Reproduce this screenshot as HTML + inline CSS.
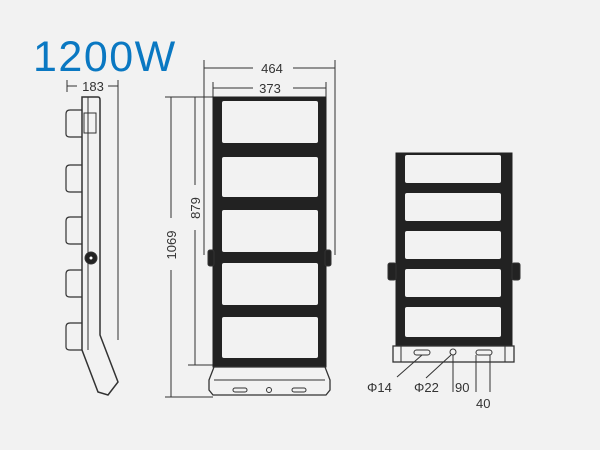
<!DOCTYPE html>
<html><head><style>body{margin:0;background:#f2f2f2}svg{display:block}</style></head><body>
<svg width="600" height="450" viewBox="0 0 600 450" xmlns="http://www.w3.org/2000/svg" font-family="Liberation Sans, sans-serif">
<rect width="600" height="450" fill="#f2f2f2"/>
<text x="33" y="71" font-size="43" letter-spacing="1.5" fill="#0a78c2">1200W</text>
<g stroke="#333" fill="none" stroke-width="1">
<!-- side view -->
<line x1="67" y1="80" x2="67" y2="92"/><line x1="118" y1="80" x2="118" y2="340"/>
<line x1="67" y1="86" x2="77" y2="86"/><line x1="108" y1="86" x2="118" y2="86"/>
<path d="M82 97 L98 97 Q100 97 100 100 L100 335 L118 382 L108 395 L98 392 L82 350 Z" stroke-width="1.5"/>
<line x1="88" y1="97" x2="88" y2="350"/>
<rect x="84" y="113" width="12" height="20"/>
<g stroke-width="1.2">
<path d="M82 110 L70 110 Q66 110 66 114 L66 134 Q66 137 70 137 L82 137"/>
<path d="M82 165 L70 165 Q66 165 66 169 L66 189 Q66 192 70 192 L82 192"/>
<path d="M82 217 L70 217 Q66 217 66 221 L66 241 Q66 244 70 244 L82 244"/>
<path d="M82 270 L70 270 Q66 270 66 274 L66 294 Q66 297 70 297 L82 297"/>
<path d="M82 323 L70 323 Q66 323 66 327 L66 347 Q66 350 70 350 L82 350"/>
</g>
<circle cx="91" cy="258" r="6" fill="#222"/><circle cx="91" cy="258" r="1.5" fill="#fff" stroke="none"/>
<!-- front dims -->
<line x1="204" y1="60" x2="204" y2="255"/><line x1="335" y1="60" x2="335" y2="255"/>
<line x1="204" y1="68" x2="253" y2="68"/><line x1="293" y1="68" x2="335" y2="68"/>
<line x1="213" y1="82" x2="213" y2="97"/><line x1="326" y1="82" x2="326" y2="97"/>
<line x1="213" y1="88" x2="253" y2="88"/><line x1="293" y1="88" x2="326" y2="88"/>
<line x1="165" y1="97" x2="213" y2="97"/><line x1="165" y1="397" x2="213" y2="397"/>
<line x1="188" y1="365" x2="213" y2="365"/>
<line x1="171" y1="97" x2="171" y2="218"/><line x1="171" y1="270" x2="171" y2="397"/>
<line x1="195" y1="97" x2="195" y2="185"/><line x1="195" y1="230" x2="195" y2="365"/>
<!-- front body -->
<rect x="213" y="97" width="113" height="270" fill="#222" stroke="#222"/>
<rect x="208" y="250" width="6" height="16" rx="2" fill="#222"/>
<rect x="325" y="250" width="6" height="16" rx="2" fill="#222"/>
<path d="M214 367 L325 367 L330 380 L330 390 L326 395 L213 395 L209 390 L209 380 Z" fill="#f2f2f2" stroke-width="1.3"/>
<line x1="214" y1="380" x2="325" y2="380"/>
<rect x="233" y="388" width="14" height="4" rx="2"/><rect x="292" y="388" width="14" height="4" rx="2"/>
<circle cx="269" cy="390" r="2.5"/>
</g>
<g fill="#f2f2f2">
<rect x="222" y="101" width="96" height="42" rx="2"/>
<rect x="222" y="157" width="96" height="40" rx="2"/>
<rect x="222" y="210" width="96" height="42" rx="2"/>
<rect x="222" y="263" width="96" height="42" rx="2"/>
<rect x="222" y="317" width="96" height="41" rx="2"/>
</g>
<g font-size="13" fill="#333" text-anchor="middle">
<text x="93" y="91">183</text>
<text x="272" y="73">464</text>
<text x="270" y="93">373</text>
<text transform="translate(176,245) rotate(-90)">1069</text>
<text transform="translate(200,208) rotate(-90)">879</text>
</g>
<!-- right view -->
<g stroke="#333" fill="none">
<rect x="396" y="153" width="116" height="193" fill="#222" stroke="#222"/>
<rect x="388" y="263" width="8" height="17" rx="2" fill="#222"/>
<rect x="512" y="263" width="8" height="17" rx="2" fill="#222"/>
<rect x="393" y="346" width="121" height="16" stroke-width="1.3"/>
<line x1="401" y1="346" x2="401" y2="362"/><line x1="505" y1="346" x2="505" y2="362"/>
<rect x="414" y="350" width="16" height="5" rx="2.5"/>
<circle cx="453" cy="352" r="3"/>
<rect x="476" y="350" width="16" height="5" rx="2.5"/>
<line x1="422" y1="355" x2="397" y2="377"/><line x1="451" y1="355" x2="426" y2="378"/>
<line x1="453" y1="355" x2="453" y2="392"/><line x1="476" y1="355" x2="476" y2="392"/><line x1="490" y1="355" x2="490" y2="392"/>
</g>
<g fill="#f2f2f2">
<rect x="405" y="155" width="96" height="28" rx="2"/>
<rect x="405" y="193" width="96" height="28" rx="2"/>
<rect x="405" y="231" width="96" height="28" rx="2"/>
<rect x="405" y="269" width="96" height="28" rx="2"/>
<rect x="405" y="307" width="96" height="30" rx="2"/>
</g>
<g font-size="13" fill="#333">
<text x="367" y="392">Φ14</text>
<text x="414" y="392">Φ22</text>
<text x="455" y="392">90</text>
<text x="476" y="408">40</text>
</g>
</svg>
</body></html>
